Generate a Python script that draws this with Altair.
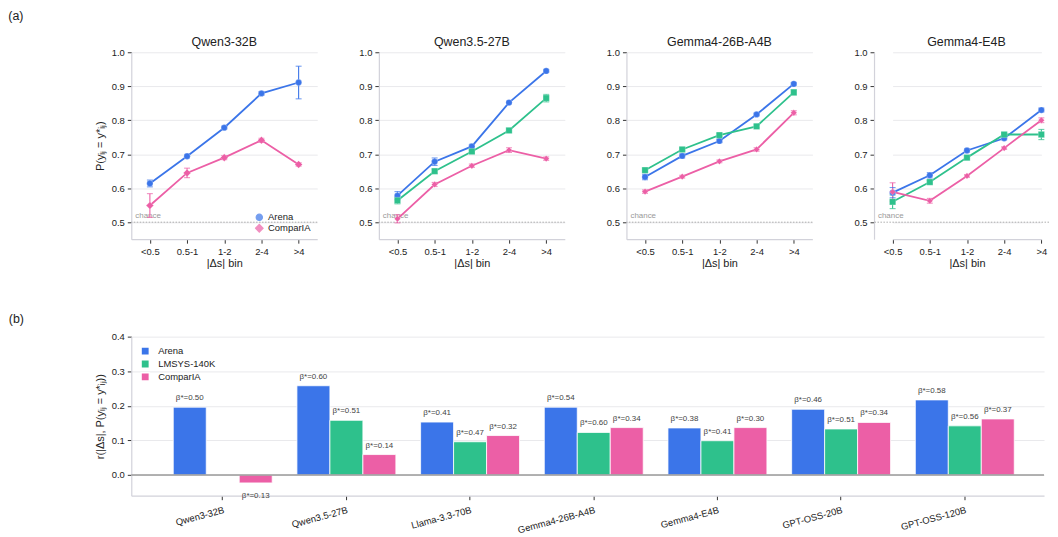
import altair as alt
import pandas as pd

FONT = "Liberation Sans"

bins = ["<0.5", "0.5-1", "1-2", "2-4", ">4"]
series = ["Arena", "LMSYS-140K", "ComparIA"]
colors = ["#3b75e9", "#2ec18c", "#ec5fa6"]
shapes = ["circle", "square", "diamond"]
sizes = [40, 40, 58]

top_models = ["Qwen3-32B", "Qwen3.5-27B", "Gemma4-26B-A4B", "Gemma4-E4B"]

# P(y_ij = y*_ij) per |Δs| bin, with half-width of error bar
qwen3_32b_arena = [0.614, 0.694, 0.778, 0.879, 0.911]
qwen3_32b_arena_err = [0.010, 0.005, 0.004, 0.005, 0.048]
qwen3_32b_comparia = [0.549, 0.645, 0.690, 0.741, 0.670]
qwen3_32b_comparia_err = [0.035, 0.014, 0.006, 0.006, 0.005]

qwen35_27b_arena = [0.578, 0.678, 0.723, 0.852, 0.945]
qwen35_27b_arena_err = [0.012, 0.011, 0.006, 0.004, 0.004]
qwen35_27b_lmsys = [0.564, 0.650, 0.708, 0.770, 0.865]
qwen35_27b_lmsys_err = [0.010, 0.006, 0.005, 0.005, 0.011]
qwen35_27b_comparia = [0.510, 0.611, 0.666, 0.712, 0.687]
qwen35_27b_comparia_err = [0.012, 0.006, 0.005, 0.007, 0.005]

gemma4_26b_arena = [0.633, 0.695, 0.739, 0.817, 0.907]
gemma4_26b_arena_err = [0.008, 0.006, 0.005, 0.004, 0.004]
gemma4_26b_lmsys = [0.653, 0.714, 0.756, 0.782, 0.882]
gemma4_26b_lmsys_err = [0.006, 0.004, 0.004, 0.004, 0.008]
gemma4_26b_comparia = [0.590, 0.634, 0.679, 0.714, 0.822]
gemma4_26b_comparia_err = [0.005, 0.004, 0.004, 0.005, 0.006]

gemma4_e4b_arena = [0.587, 0.638, 0.711, 0.747, 0.830]
gemma4_e4b_arena_err = [0.015, 0.008, 0.005, 0.005, 0.006]
gemma4_e4b_lmsys = [0.560, 0.618, 0.690, 0.758, 0.758]
gemma4_e4b_lmsys_err = [0.020, 0.005, 0.005, 0.005, 0.015]
gemma4_e4b_comparia = [0.589, 0.563, 0.636, 0.718, 0.800]
gemma4_e4b_comparia_err = [0.027, 0.007, 0.004, 0.004, 0.007]

# Bottom panel: correlation r(|Δs|, P(y_ij = y*_ij)) and β* labels
bar_models = ["Qwen3-32B", "Qwen3.5-27B", "Llama-3.3-70B", "Gemma4-26B-A4B",
              "Gemma4-E4B", "GPT-OSS-20B", "GPT-OSS-120B"]
arena_r = [0.196, 0.258, 0.153, 0.196, 0.136, 0.190, 0.217]
lmsys_r = [None, 0.158, 0.096, 0.123, 0.099, 0.133, 0.142]
comparia_r = [-0.023, 0.059, 0.114, 0.137, 0.137, 0.152, 0.162]
arena_beta = ["0.50", "0.60", "0.41", "0.54", "0.38", "0.46", "0.58"]
lmsys_beta = [None, "0.51", "0.47", "0.60", "0.41", "0.51", "0.56"]
comparia_beta = ["0.13", "0.14", "0.32", "0.34", "0.30", "0.34", "0.37"]

top_data = {
    "Qwen3-32B": {"Arena": (qwen3_32b_arena, qwen3_32b_arena_err),
                  "ComparIA": (qwen3_32b_comparia, qwen3_32b_comparia_err)},
    "Qwen3.5-27B": {"Arena": (qwen35_27b_arena, qwen35_27b_arena_err),
                    "LMSYS-140K": (qwen35_27b_lmsys, qwen35_27b_lmsys_err),
                    "ComparIA": (qwen35_27b_comparia, qwen35_27b_comparia_err)},
    "Gemma4-26B-A4B": {"Arena": (gemma4_26b_arena, gemma4_26b_arena_err),
                       "LMSYS-140K": (gemma4_26b_lmsys, gemma4_26b_lmsys_err),
                       "ComparIA": (gemma4_26b_comparia, gemma4_26b_comparia_err)},
    "Gemma4-E4B": {"Arena": (gemma4_e4b_arena, gemma4_e4b_arena_err),
                   "LMSYS-140K": (gemma4_e4b_lmsys, gemma4_e4b_lmsys_err),
                   "ComparIA": (gemma4_e4b_comparia, gemma4_e4b_comparia_err)},
}

YT_TOP = "P(yᵢⱼ = y*ᵢⱼ)"
YT_BOT = "r(|Δs|,  P(yᵢⱼ = y*ᵢⱼ))"
TOP_TICKS = [0.5, 0.6, 0.7, 0.8, 0.9, 1.0]
BOT_TICKS = [0.0, 0.1, 0.2, 0.3, 0.4]


def panel(model, idx):
    first = idx == 0
    last = idx == len(top_models) - 1
    rows = []
    for s, (vals, errs) in top_data[model].items():
        for b, v, e in zip(bins, vals, errs):
            rows.append({"series": s, "bin": b, "p": v, "lo": v - e, "hi": v + e})
    df = pd.DataFrame(rows)
    present = [s for s in series if s in top_data[model]]
    rng = [colors[series.index(s)] for s in present]
    shp = [shapes[series.index(s)] for s in present]
    szs = [sizes[series.index(s)] for s in present]

    if last:
        w = 176
        xscale = alt.Scale(type="point", range=[18.7, 168.3], padding=0)
    else:
        w = 187
        xscale = alt.Scale(type="point", padding=0.5)
    x = alt.X("bin:N", sort=bins, scale=xscale,
              axis=alt.Axis(title="|Δs| bin", labelAngle=0, grid=False, titlePadding=2))
    yaxis = alt.Axis(values=TOP_TICKS, tickCount=6, format=".1f",
                     labelOverlap=False, title=YT_TOP if first else None, titlePadding=6)
    yscale = alt.Scale(domain=[0.45, 1.0], nice=False, zero=False)
    if first:
        leg = alt.Legend(title=None, orient="bottom-right", offset=6,
                         labelFontSize=9.5, symbolSize=40, rowPadding=1,
                         clipHeight=10, symbolStrokeWidth=1.2)
        color = alt.Color("series:N", scale=alt.Scale(domain=present, range=rng), legend=leg)
        shape = alt.Shape("series:N", scale=alt.Scale(domain=present, range=shp), legend=leg)
    else:
        color = alt.Color("series:N", scale=alt.Scale(domain=present, range=rng), legend=None)
        shape = alt.Shape("series:N", scale=alt.Scale(domain=present, range=shp), legend=None)
    size = alt.Size("series:N", scale=alt.Scale(domain=present, range=szs), legend=None)

    y_main = alt.Y("p:Q", scale=yscale, axis=yaxis)
    base = alt.Chart(df)
    line = base.mark_line(strokeWidth=1.8).encode(x=x, y=y_main, color=color)
    rule = base.mark_rule(strokeWidth=1.1).encode(
        x=x, y=alt.Y("lo:Q", scale=yscale, axis=yaxis), y2="hi:Q", color=color)
    cap_lo = base.mark_tick(size=6, thickness=1.1).encode(
        x=x, y=alt.Y("lo:Q", scale=yscale, axis=yaxis), color=color)
    cap_hi = base.mark_tick(size=6, thickness=1.1).encode(
        x=x, y=alt.Y("hi:Q", scale=yscale, axis=yaxis), color=color)
    pts = base.mark_point(filled=True, opacity=1, stroke="white",
                          strokeWidth=0.5, strokeOpacity=0.5).encode(
        x=x, y=y_main, color=color, shape=shape, size=size)

    chance_df = pd.DataFrame({"v": [0.5], "t": ["chance"]})
    chance_rule = alt.Chart(chance_df).mark_rule(
        color="#999999", strokeWidth=0.8, strokeDash=[1.5, 1.5]).encode(
        y=alt.Y("v:Q", scale=yscale, axis=yaxis))
    chance_txt = alt.Chart(chance_df).mark_text(
        align="left", baseline="bottom", dy=-2, fontSize=8, color="#999999", font=FONT
    ).encode(x=alt.value(4), y=alt.Y("v:Q", scale=yscale, axis=yaxis), text="t:N")

    layers = [chance_rule, chance_txt, line, rule, cap_lo, cap_hi, pts]
    title = (alt.TitleParams(model, dx=5, offset=-1) if last
             else alt.TitleParams(model, offset=-1))
    return alt.layer(*layers).properties(width=w, height=188, title=title)


panels = [panel(m, i) for i, m in enumerate(top_models)]
top_row = alt.hconcat(*panels, spacing=40).resolve_scale(
    color="independent", shape="independent", size="independent").properties(
    title=alt.TitleParams("(a)", anchor="start", dx=-86, offset=13, fontSize=12.5))

# ---- bottom panel
brows = []
for m_i, m in enumerate(bar_models):
    for s, rs, bs in [("Arena", arena_r, arena_beta),
                      ("LMSYS-140K", lmsys_r, lmsys_beta),
                      ("ComparIA", comparia_r, comparia_beta)]:
        if rs[m_i] is None:
            continue
        brows.append({"model": m, "series": s, "r": rs[m_i],
                      "label": "β*=" + bs[m_i]})
bdf = pd.DataFrame(brows)

bx = alt.X("model:N", sort=bar_models,
           scale=alt.Scale(paddingInner=0.2, paddingOuter=0.29, align=0.585),
           axis=alt.Axis(title=None, labelAngle=345, labelAlign="right",
                         labelBaseline="top", labelPadding=5, grid=False,
                         labelFontSize=9.5))
bxo = alt.XOffset("series:N", sort=series, scale=alt.Scale(domain=series))
bscale = alt.Scale(domain=[-0.06, 0.4], nice=False, zero=False)
baxis = alt.Axis(values=BOT_TICKS, tickCount=5, format=".1f", title=YT_BOT,
                 labelOverlap=False, titlePadding=6)
by = alt.Y("r:Q", scale=bscale, axis=baxis)
bcolor = alt.Color("series:N", scale=alt.Scale(domain=series, range=colors),
                   legend=alt.Legend(title=None, orient="top-left", offset=9,
                                     labelFontSize=9.5, symbolType="square",
                                     symbolSize=70, rowPadding=2, clipHeight=11,
                                     labelOffset=8))

bars = alt.Chart(bdf).mark_bar(stroke="white", strokeWidth=0.8).encode(
    x=bx, xOffset=bxo, y=by, color=bcolor)
zero = alt.Chart(pd.DataFrame({"z": [0.0]})).mark_rule(
    color="#9a9a9a", strokeWidth=1.5).encode(y=alt.Y("z:Q", scale=bscale, axis=baxis))
lab_pos = alt.Chart(bdf).transform_filter("datum.r >= 0").mark_text(
    baseline="bottom", dy=-5, fontSize=8, color="#444444", font=FONT).encode(
    x=bx, xOffset=bxo, y=by, text="label:N")
lab_neg = alt.Chart(bdf).transform_filter("datum.r < 0").mark_text(
    baseline="top", dy=9, fontSize=8, color="#444444", font=FONT).encode(
    x=bx, xOffset=bxo, y=by, text="label:N")

bottom = alt.layer(bars, zero, lab_pos, lab_neg).properties(
    width=918, height=160,
    title=alt.TitleParams("(b)", anchor="start", dx=-86, offset=6, fontSize=12.5))

chart = alt.vconcat(top_row, bottom, spacing=44).resolve_scale(
    color="independent", shape="independent", size="independent"
).properties(padding=0).configure_view(stroke="transparent").configure_axis(
    domainColor="#d2d2da", domainWidth=1.2, gridColor="#e9e9ec", tickColor="#333333",
    tickSize=4, labelColor="#222222", titleColor="#222222", labelFont=FONT,
    titleFont=FONT, labelFontSize=9.5, titleFontSize=11, titleFontWeight="normal",
    labelPadding=3, labelOverlap=False
).configure_title(
    font=FONT, fontSize=12.5, fontWeight="normal", color="#222222", offset=6
).configure_legend(labelFont=FONT, labelColor="#222222")

chart.save("out.html", embed_options={"renderer": "svg", "actions": False})
